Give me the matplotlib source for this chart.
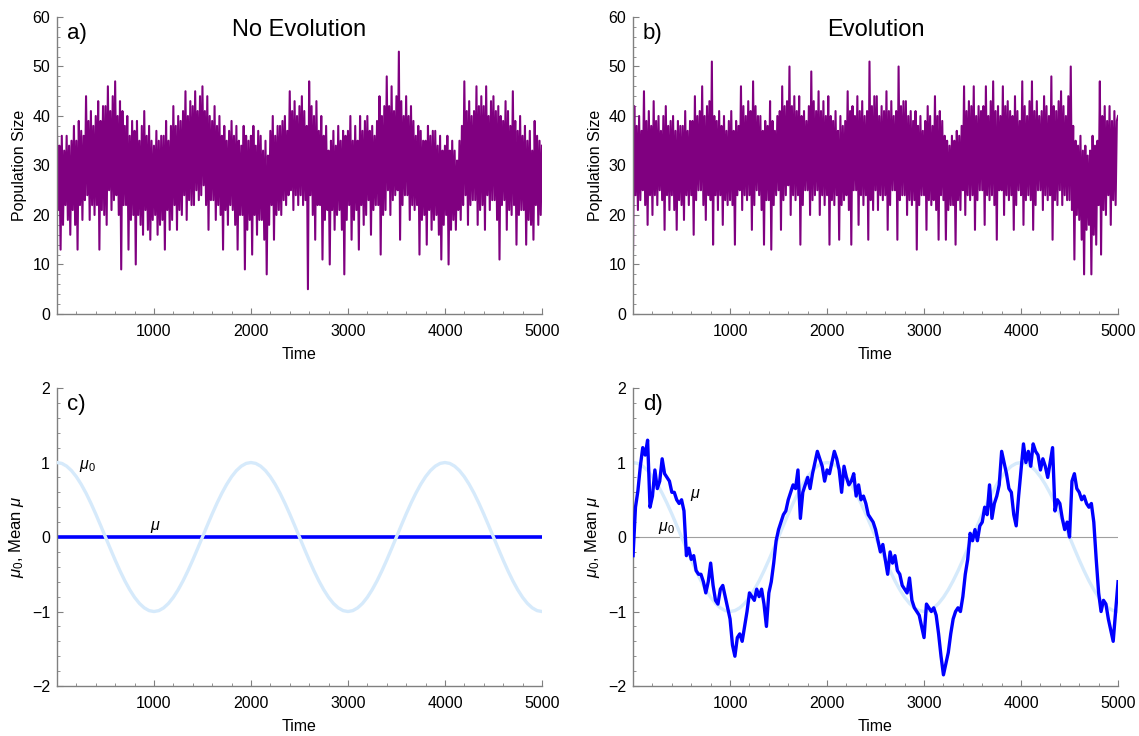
import numpy as np
import matplotlib
matplotlib.use("Agg")
import matplotlib.pyplot as plt
from matplotlib.ticker import MultipleLocator

plt.rcParams["font.family"] = ["Liberation Sans", "DejaVu Sans"]
plt.rcParams["mathtext.fontset"] = "custom"
plt.rcParams["mathtext.rm"] = "Liberation Sans"
plt.rcParams["mathtext.it"] = "Liberation Sans:italic"

# tiempo muestreado cada 12.5 pasos
pop_times = np.arange(0, 5000.1, 12.5)

# a) tamaño de población sin evolución (una fila = 200 pasos)
pop_no_evo = [
    37, 21, 34, 13, 36, 18, 33, 22, 36, 19, 34, 16, 35, 21, 38, 18,
    35, 13, 39, 22, 37, 19, 36, 23, 44, 24, 39, 19, 41, 22, 38, 20,
    40, 22, 43, 13, 39, 21, 42, 20, 42, 18, 46, 25, 41, 21, 44, 23,
    47, 24, 40, 20, 43, 9, 41, 22, 38, 22, 40, 13, 36, 19, 39, 20,
    37, 10, 39, 20, 35, 18, 38, 16, 41, 21, 36, 17, 38, 15, 35, 19,
    34, 20, 37, 16, 35, 18, 36, 19, 36, 13, 39, 21, 35, 17, 38, 19,
    42, 22, 38, 17, 40, 21, 39, 20, 41, 24, 45, 19, 40, 23, 43, 22,
    42, 22, 45, 25, 41, 23, 44, 24, 46, 26, 41, 22, 44, 17, 40, 23,
    39, 23, 42, 19, 38, 22, 40, 20, 36, 13, 38, 21, 35, 18, 37, 22,
    39, 21, 36, 18, 38, 13, 35, 20, 34, 20, 38, 9, 36, 17, 35, 19,
    36, 12, 38, 20, 34, 16, 37, 19, 36, 19, 33, 15, 35, 8, 32, 18,
    37, 22, 40, 15, 36, 20, 38, 21, 38, 20, 39, 23, 40, 22, 37, 24,
    45, 25, 41, 21, 43, 24, 40, 22, 42, 24, 44, 22, 41, 23, 38, 5,
    47, 24, 42, 20, 40, 15, 43, 22, 37, 22, 40, 11, 36, 19, 38, 21,
    33, 10, 35, 21, 37, 17, 34, 20, 38, 21, 35, 17, 37, 8, 36, 19,
    37, 22, 40, 15, 35, 19, 38, 21, 35, 13, 40, 22, 37, 18, 39, 20,
    40, 23, 37, 16, 38, 21, 36, 22, 39, 22, 44, 12, 40, 20, 42, 21,
    48, 25, 42, 20, 46, 23, 41, 24, 44, 25, 53, 15, 43, 22, 40, 24,
    44, 24, 40, 19, 42, 22, 39, 21, 36, 22, 38, 12, 37, 19, 35, 20,
    35, 14, 38, 21, 36, 17, 37, 19, 37, 20, 34, 16, 36, 11, 33, 18,
    34, 20, 36, 10, 33, 17, 35, 19, 33, 17, 31, 21, 35, 19, 38, 22,
    47, 24, 41, 18, 43, 22, 40, 23, 41, 23, 46, 18, 42, 21, 44, 22,
    42, 17, 46, 24, 40, 21, 43, 23, 44, 23, 41, 19, 42, 11, 40, 22,
    39, 23, 43, 17, 41, 21, 38, 20, 45, 22, 39, 14, 37, 20, 40, 21,
    36, 21, 38, 14, 35, 19, 37, 18, 33, 15, 39, 22, 36, 18, 35, 20,
    34,
]

# b) tamaño de población con evolución (una fila = 200 pasos)
pop_evo = [
    13, 42, 24, 38, 21, 40, 23, 37, 25, 45, 22, 39, 18, 41, 24, 38,
    20, 43, 24, 39, 22, 40, 25, 37, 23, 40, 17, 42, 24, 38, 21, 39,
    24, 40, 21, 37, 17, 39, 23, 38, 22, 38, 19, 41, 24, 37, 22, 39,
    24, 39, 16, 44, 23, 40, 25, 41, 25, 46, 22, 40, 19, 42, 24, 43,
    23, 51, 14, 40, 24, 39, 21, 41, 24, 38, 18, 40, 23, 37, 22, 39,
    23, 41, 22, 37, 14, 39, 24, 38, 25, 46, 21, 42, 24, 40, 23, 43,
    24, 41, 17, 47, 22, 42, 25, 40, 24, 40, 21, 37, 14, 39, 23, 38,
    23, 43, 13, 39, 22, 37, 24, 40, 25, 41, 17, 46, 23, 42, 24, 43,
    26, 50, 20, 42, 24, 44, 23, 41, 24, 44, 14, 40, 22, 41, 25, 39,
    25, 42, 20, 49, 23, 43, 24, 41, 25, 45, 20, 41, 24, 43, 22, 40,
    24, 44, 14, 40, 23, 39, 22, 41, 24, 37, 15, 40, 22, 38, 23, 39,
    24, 45, 21, 41, 14, 42, 25, 40, 25, 44, 18, 41, 24, 43, 22, 40,
    24, 41, 15, 51, 23, 42, 21, 44, 25, 44, 21, 40, 24, 42, 23, 41,
    24, 45, 17, 41, 22, 43, 25, 40, 25, 41, 15, 50, 23, 42, 24, 43,
    24, 43, 20, 40, 23, 41, 22, 39, 23, 41, 13, 38, 22, 40, 24, 37,
    24, 39, 17, 42, 23, 40, 22, 38, 23, 44, 21, 40, 15, 41, 24, 39,
    23, 36, 15, 35, 21, 34, 22, 36, 22, 35, 14, 37, 23, 36, 21, 38,
    25, 46, 20, 41, 24, 43, 23, 42, 24, 46, 17, 40, 23, 42, 25, 41,
    25, 42, 18, 46, 24, 40, 23, 43, 24, 47, 22, 41, 15, 42, 25, 40,
    25, 46, 20, 42, 24, 43, 23, 41, 24, 40, 17, 44, 22, 41, 25, 39,
    24, 47, 18, 42, 23, 40, 24, 43, 23, 47, 17, 41, 22, 43, 25, 40,
    25, 41, 21, 44, 24, 42, 23, 40, 24, 48, 15, 42, 23, 41, 22, 43,
    25, 45, 22, 42, 24, 40, 23, 44, 23, 50, 21, 38, 11, 35, 20, 34,
    19, 36, 15, 33, 8, 34, 17, 32, 18, 33, 8, 36, 16, 34, 14, 35,
    22, 47, 12, 40, 21, 42, 20, 39, 24, 42, 18, 39, 23, 41, 22, 39,
    40,
]

# mu0 (óptimo ambiental), cada 50 pasos
mu0_times = np.arange(0, 5001, 50)
mu0 = [
    1.0, 0.988, 0.951, 0.891, 0.809, 0.707, 0.588, 0.454, 0.309, 0.156,
    0.0, -0.156, -0.309, -0.454, -0.588, -0.707, -0.809, -0.891, -0.951, -0.988,
    -1.0, -0.988, -0.951, -0.891, -0.809, -0.707, -0.588, -0.454, -0.309, -0.156,
    0.0, 0.156, 0.309, 0.454, 0.588, 0.707, 0.809, 0.891, 0.951, 0.988,
    1.0, 0.988, 0.951, 0.891, 0.809, 0.707, 0.588, 0.454, 0.309, 0.156,
    0.0, -0.156, -0.309, -0.454, -0.588, -0.707, -0.809, -0.891, -0.951, -0.988,
    -1.0, -0.988, -0.951, -0.891, -0.809, -0.707, -0.588, -0.454, -0.309, -0.156,
    0.0, 0.156, 0.309, 0.454, 0.588, 0.707, 0.809, 0.891, 0.951, 0.988,
    1.0, 0.988, 0.951, 0.891, 0.809, 0.707, 0.588, 0.454, 0.309, 0.156,
    0.0, -0.156, -0.309, -0.454, -0.588, -0.707, -0.809, -0.891, -0.951, -0.988,
    -1.0,
]

# c) mu medio sin evolución
mu_no_evo_times = [0, 5000]
mu_no_evo = [0.0, 0.0]

# d) mu medio con evolución, cada 25 pasos
mu_times = np.arange(0, 5001, 25)
mu_evo = [
    -0.25, 0.40, 0.62, 0.95, 1.2, 1.1, 1.3, 0.4, 0.55, 0.9, 0.65, 0.75,
    1.05, 0.85, 0.8, 0.75, 0.6, 0.6, 0.5, 0.45, 0.5, 0.35, -0.25, -0.15,
    -0.3, -0.25, -0.45, -0.5, -0.5, -0.6, -0.75, -0.6, -0.35, -0.65, -0.85, -0.9,
    -0.7, -0.65, -0.8, -0.95, -1.1, -1.45, -1.6, -1.35, -1.3, -1.4, -1.2, -1.0,
    -0.75, -0.8, -0.85, -0.7, -0.8, -0.7, -0.9, -1.2, -0.75, -0.6, -0.35, -0.05,
    0.1, 0.2, 0.3, 0.35, 0.5, 0.6, 0.7, 0.65, 0.9, 0.25, 0.6, 0.7,
    0.8, 0.65, 0.85, 1.0, 1.15, 1.05, 0.95, 0.75, 0.9, 0.85, 1.0, 1.15,
    1.05, 0.9, 0.6, 0.95, 0.8, 0.7, 0.75, 0.85, 0.55, 0.7, 0.5, 0.55,
    0.45, 0.3, 0.25, 0.2, 0.1, -0.05, -0.2, -0.1, -0.3, -0.5, -0.2, -0.35,
    -0.25, -0.45, -0.5, -0.65, -0.7, -0.75, -0.55, -0.85, -0.95, -1.0, -1.05, -1.2,
    -1.35, -0.9, -0.95, -1.0, -0.95, -1.05, -1.3, -1.6, -1.85, -1.7, -1.55, -1.3,
    -1.1, -1.0, -0.95, -1.0, -0.8, -0.5, -0.3, 0.05, -0.05, 0.1, -0.05, 0.15,
    0.2, 0.4, 0.3, 0.7, 0.25, 0.45, 0.55, 0.7, 1.15, 1.0, 0.85, 0.65,
    0.6, 0.3, 0.15, 0.55, 0.9, 1.25, 1.0, 1.15, 0.95, 1.25, 1.15, 1.1,
    0.9, 1.05, 0.95, 0.8, 1.0, 1.2, 0.35, 0.5, 0.45, 0.25, 0.1, 0.2,
    0.0, 0.75, 0.85, 0.65, 0.6, 0.5, 0.55, 0.45, 0.4, 0.45, 0.2, -0.3,
    -0.75, -1.0, -0.85, -0.9, -1.1, -1.25, -1.4, -1.0, -0.6,
]

PURPLE = "#800080"
BLUE = "#0000FF"
LIGHT_BLUE = "#D6EAFB"
AXIS_GRAY = "#808080"


def style_axes(ax):
    for side in ("top", "right"):
        ax.spines[side].set_visible(False)
    for side in ("left", "bottom"):
        ax.spines[side].set_color(AXIS_GRAY)
        ax.spines[side].set_linewidth(1.0)
    ax.tick_params(which="both", direction="in", color=AXIS_GRAY, labelsize=11.5)
    ax.tick_params(which="major", length=4, width=0.8)
    ax.tick_params(which="minor", length=2, width=0.6)
    ax.tick_params(axis="x", pad=7)
    ax.tick_params(axis="y", pad=5)
    ax.set_xlim(0, 5000)
    ax.set_xticks([1000, 2000, 3000, 4000, 5000])
    ax.xaxis.set_minor_locator(MultipleLocator(200))
    ax.set_xlabel("Time", fontsize=11.5, labelpad=6)


fig = plt.figure(figsize=(11.39, 7.36), dpi=100)
ax_a = fig.add_axes([0.050, 0.5734, 0.4258, 0.4035])
ax_b = fig.add_axes([0.5558, 0.5734, 0.4258, 0.4035])
ax_c = fig.add_axes([0.050, 0.0679, 0.4258, 0.4049])
ax_d = fig.add_axes([0.5558, 0.0679, 0.4258, 0.4049])

# paneles de población
for ax, vals, tag, title in [(ax_a, pop_no_evo, "a)", "No Evolution"),
                             (ax_b, pop_evo, "b)", "Evolution")]:
    style_axes(ax)
    ax.plot(pop_times, vals, color=PURPLE, lw=1.5)
    ax.set_ylim(0, 60)
    ax.set_yticks(range(0, 61, 10))
    ax.yaxis.set_minor_locator(MultipleLocator(2))
    ax.set_ylabel("Population Size", fontsize=11.5)
    ax.text(0.02, 0.945, tag, transform=ax.transAxes, fontsize=16, ha="left", va="center")
    ax.text(0.5, 0.955, title, transform=ax.transAxes, fontsize=17, ha="center", va="center")

# paneles de mu
for ax, tag in [(ax_c, "c)"), (ax_d, "d)")]:
    style_axes(ax)
    ax.set_ylim(-2, 2)
    ax.set_yticks([-2, -1, 0, 1, 2])
    ax.yaxis.set_minor_locator(MultipleLocator(0.2))
    ax.axhline(0, color="#A0A0A0", lw=0.8, zorder=1)
    ax.set_ylabel(r"$\mu_0$, Mean $\mu$", fontsize=12)
    ax.text(0.02, 0.945, tag, transform=ax.transAxes, fontsize=16, ha="left", va="center")

ax_c.plot(mu_no_evo_times, mu_no_evo, color=BLUE, lw=2.6, zorder=2)
ax_c.plot(mu0_times, mu0, color=LIGHT_BLUE, lw=2.4, zorder=3)
ax_c.text(230, 0.95, r"$\mu_0$", fontsize=11.5, ha="left", va="center")
ax_c.text(960, 0.13, r"$\mu$", fontsize=11.5, ha="left", va="center")

ax_d.plot(mu0_times, mu0, color=LIGHT_BLUE, lw=2.4, zorder=2)
ax_d.plot(mu_times, mu_evo, color=BLUE, lw=2.4, zorder=3)
ax_d.text(590, 0.56, r"$\mu$", fontsize=11.5, ha="left", va="center")
ax_d.text(260, 0.12, r"$\mu_0$", fontsize=11.5, ha="left", va="center")

fig.savefig("out.png", dpi=100)
